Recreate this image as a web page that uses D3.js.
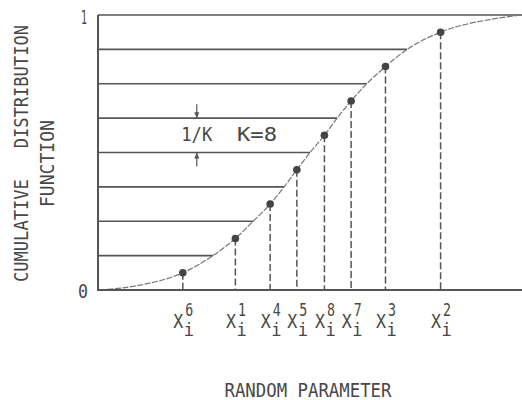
<!DOCTYPE html>
<html>
<head>
<meta charset="utf-8">
<script src="https://cdn.jsdelivr.net/npm/d3@7"></script>
<style>
  html, body { margin: 0; padding: 0; background: #fff; }
  svg text { font-family: "DejaVu Sans Mono", monospace; fill: #474747; }
</style>
</head>
<body>
<svg id="chart" width="522" height="400"></svg>
<script>
// CDF curve (random parameter, F)
const curveX = [0.05, 1.0, 2.00, 2.71, 3.24, 3.66, 4.06, 4.39, 4.69, 5.00, 5.34, 5.64, 5.97, 6.34, 6.78, 7.29, 8.08, 9.3, 10];
const curveF = [0, 0.018, 0.0625, 0.125, 0.1875, 0.25, 0.3125, 0.375, 0.4375, 0.5, 0.5625, 0.625, 0.6875, 0.75, 0.8125, 0.875, 0.9375, 0.985, 1];

// interval boundaries, K = 8
const levels = [0.125, 0.25, 0.375, 0.5, 0.625, 0.75, 0.875, 1];

// sampled points (one per interval)
const sampleIndex = [6, 1, 4, 5, 8, 7, 3, 2];
const sampleX = [2.00, 3.24, 4.06, 4.69, 5.34, 5.97, 6.78, 8.08];
const sampleF = [0.0625, 0.1875, 0.3125, 0.4375, 0.5625, 0.6875, 0.8125, 0.9375];

const yTicks = [0, 1];

const svg = d3.select("#chart");
const ink = "#555";

const x = d3.scaleLinear().domain([0, 10]).range([98, 522]);
const y = d3.scaleLinear().domain([0, 1]).range([290, 15]);

const curve = curveX.map((v, i) => ({ x: v, f: curveF[i] }));

// horizontal level lines, from the axis to the curve
svg.append("g")
  .selectAll("line")
  .data(levels)
  .join("line")
  .attr("x1", x(0))
  .attr("x2", (d) => {
    const p = curve.find((c) => c.f === d);
    return x(p ? p.x : 10);
  })
  .attr("y1", (d) => y(d))
  .attr("y2", (d) => y(d))
  .attr("stroke", ink)
  .attr("stroke-width", 1.6);

// the curve
const line = d3.line()
  .x((d) => x(d.x))
  .y((d) => y(d.f))
  .curve(d3.curveMonotoneX);

svg.append("path")
  .datum(curve)
  .attr("d", line)
  .attr("fill", "none")
  .attr("stroke", "#777")
  .attr("stroke-width", 1.2)
  .attr("stroke-dasharray", "6,1.5");

// dashed drop lines
svg.append("g")
  .selectAll("line")
  .data(sampleX)
  .join("line")
  .attr("x1", (d) => x(d))
  .attr("x2", (d) => x(d))
  .attr("y1", (d, i) => y(sampleF[i]))
  .attr("y2", y(0))
  .attr("stroke", ink)
  .attr("stroke-width", 1.5)
  .attr("stroke-dasharray", "7,3");

// dots
svg.append("g")
  .selectAll("circle")
  .data(sampleX)
  .join("circle")
  .attr("cx", (d) => x(d))
  .attr("cy", (d, i) => y(sampleF[i]))
  .attr("r", 3.8)
  .attr("fill", "#444");

// axes (left and bottom lines only)
svg.append("line")
  .attr("x1", x(0)).attr("x2", x(0))
  .attr("y1", y(1)).attr("y2", y(0) + 1)
  .attr("stroke", ink).attr("stroke-width", 2);
svg.append("line")
  .attr("x1", x(0)).attr("x2", x(10))
  .attr("y1", y(0)).attr("y2", y(0))
  .attr("stroke", ink).attr("stroke-width", 2);

// y tick labels
svg.append("g")
  .selectAll("text")
  .data(yTicks)
  .join("text")
  .attr("x", (d) => (d === 1 ? 84 : 83))
  .attr("y", (d) => y(d) + (d === 1 ? 9 : 8))
  .attr("text-anchor", "middle")
  .attr("font-size", 20)
  .attr("textLength", (d) => (d === 1 ? 6 : 10))
  .attr("lengthAdjust", "spacingAndGlyphs")
  .text((d) => d);

// x tick labels: X with superscript index and subscript i, one text each
const tickText = svg.append("g")
  .selectAll("text")
  .data(sampleX)
  .join("text")
  .attr("x", (d) => x(d) - 9.5)
  .attr("y", 328)
  .attr("font-size", 20);
tickText.append("tspan")
  .attr("textLength", 10)
  .attr("lengthAdjust", "spacingAndGlyphs")
  .text("X");
tickText.append("tspan")
  .attr("x", (d) => x(d) + 2.5)
  .attr("y", 316)
  .attr("font-size", 17)
  .attr("textLength", 8)
  .attr("lengthAdjust", "spacingAndGlyphs")
  .text((d, i) => sampleIndex[i]);
tickText.append("tspan")
  .attr("x", (d) => x(d) + 1)
  .attr("y", 336)
  .attr("font-size", 17)
  .text("i");

// 1/K annotation with arrows
const ax = x(2.33);
const arrowHead = (tipY, dir) =>
  `M${ax},${tipY} L${ax - 2.5},${tipY - dir * 6} L${ax + 2.5},${tipY - dir * 6} Z`;
svg.append("line")
  .attr("x1", ax).attr("x2", ax)
  .attr("y1", y(0.625) - 14).attr("y2", y(0.625))
  .attr("stroke", ink).attr("stroke-width", 1.2);
svg.append("path").attr("d", arrowHead(y(0.625), 1)).attr("fill", ink);
svg.append("line")
  .attr("x1", ax).attr("x2", ax)
  .attr("y1", y(0.5)).attr("y2", y(0.5) + 14)
  .attr("stroke", ink).attr("stroke-width", 1.2);
svg.append("path").attr("d", arrowHead(y(0.5), -1)).attr("fill", ink);

svg.append("text")
  .attr("x", ax).attr("y", 141)
  .attr("text-anchor", "middle")
  .attr("font-size", 19.5)
  .attr("textLength", 31)
  .attr("lengthAdjust", "spacingAndGlyphs")
  .text("1/K");
svg.append("text")
  .attr("x", 257).attr("y", 141)
  .attr("text-anchor", "middle")
  .attr("font-size", 19.5)
  .attr("textLength", 40)
  .attr("lengthAdjust", "spacingAndGlyphs")
  .text("K=8");

// axis titles
svg.append("text")
  .attr("x", 308).attr("y", 397)
  .attr("text-anchor", "middle")
  .attr("font-size", 19)
  .attr("textLength", 167)
  .attr("lengthAdjust", "spacingAndGlyphs")
  .text("RANDOM PARAMETER");

svg.append("text")
  .attr("transform", "translate(27.5,153.5) rotate(-90)")
  .attr("text-anchor", "middle")
  .attr("font-size", 19)
  .attr("textLength", 257)
  .attr("lengthAdjust", "spacingAndGlyphs")
  .attr("xml:space", "preserve")
  .style("white-space", "pre")
  .text("CUMULATIVE   DISTRIBUTION");
svg.append("text")
  .attr("transform", "translate(54,163.5) rotate(-90)")
  .attr("text-anchor", "middle")
  .attr("font-size", 19)
  .attr("textLength", 87)
  .attr("lengthAdjust", "spacingAndGlyphs")
  .text("FUNCTION");
</script>
</body>
</html>
